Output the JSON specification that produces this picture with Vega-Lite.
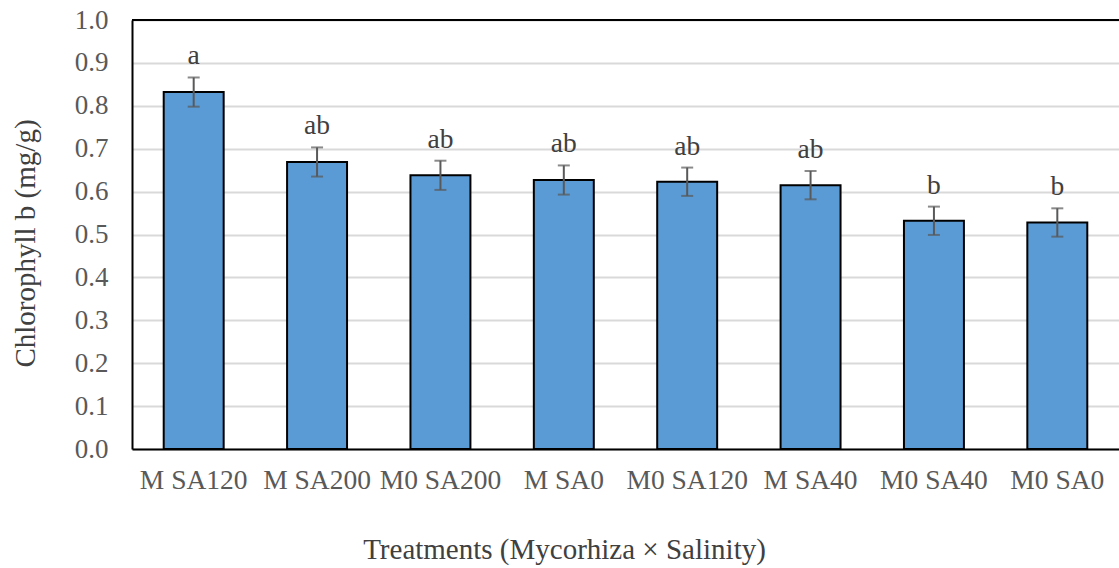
{
  "$schema": "https://vega.github.io/schema/vega-lite/v6.json",
  "width": 987,
  "height": 429,
  "autosize": {"type": "none"},
  "padding": {"left": 132, "top": 20, "right": 0, "bottom": 119},
  "background": "white",
  "config": {
    "view": {"stroke": null},
    "font": "Liberation Serif",
    "axis": {
      "labelFont": "Liberation Serif",
      "titleFont": "Liberation Serif",
      "labelColor": "#595959",
      "titleColor": "#404040",
      "titleFontWeight": "normal",
      "ticks": false,
      "domainColor": "#000000",
      "domainWidth": 2
    }
  },
  "data": {
    "values": [
      {"treatment": "M SA120", "chl_b": 0.832, "low": 0.798, "high": 0.866, "group": "a"},
      {"treatment": "M SA200", "chl_b": 0.669, "low": 0.635, "high": 0.703, "group": "ab"},
      {"treatment": "M0 SA200", "chl_b": 0.638, "low": 0.604, "high": 0.672, "group": "ab"},
      {"treatment": "M SA0", "chl_b": 0.627, "low": 0.593, "high": 0.661, "group": "ab"},
      {"treatment": "M0 SA120", "chl_b": 0.623, "low": 0.590, "high": 0.656, "group": "ab"},
      {"treatment": "M SA40", "chl_b": 0.615, "low": 0.582, "high": 0.648, "group": "ab"},
      {"treatment": "M0 SA40", "chl_b": 0.532, "low": 0.499, "high": 0.565, "group": "b"},
      {"treatment": "M0 SA0", "chl_b": 0.528, "low": 0.495, "high": 0.561, "group": "b"}
    ]
  },
  "encoding": {
    "x": {
      "field": "treatment",
      "type": "nominal",
      "sort": null,
      "scale": {"paddingInner": 0.514, "paddingOuter": 0.257},
      "axis": {
        "orient": "bottom",
        "title": "Treatments (Mycorhiza × Salinity)",
        "labelAngle": 0,
        "labelFontSize": 27.5,
        "labelPadding": 17,
        "titleFontSize": 29,
        "titleX": 432,
        "titleY": 100,
        "titleBaseline": "middle",
        "titleAnchor": null,
        "titleAlign": "center"
      }
    }
  },
  "layer": [
    {
      "mark": {"type": "bar", "color": "#5b9bd5", "stroke": "#000000", "strokeWidth": 2},
      "encoding": {
        "y": {
          "field": "chl_b",
          "type": "quantitative",
          "title": "Chlorophyll b (mg/g)",
          "scale": {"domain": [0, 1], "nice": false},
          "axis": {
            "values": [0, 0.1, 0.2, 0.3, 0.4, 0.5, 0.6, 0.7, 0.8, 0.9, 1.0],
            "format": ".1f",
            "labelFontSize": 27,
            "labelPadding": 24,
            "grid": true,
            "gridColor": "#d9d9d9",
            "gridWidth": 2,
            "titleFontSize": 29,
            "titleX": -107,
            "titleY": 223,
            "titleAngle": -90,
            "titleBaseline": "middle",
            "titleAlign": "center",
            "titleAnchor": null
          }
        }
      }
    },
    {
      "mark": {
        "type": "errorbar",
        "color": "#595959",
        "ticks": {"size": 12, "thickness": 2, "color": "#595959"},
        "rule": {"strokeWidth": 2}
      },
      "encoding": {
        "y": {"field": "low", "type": "quantitative", "title": "Chlorophyll b (mg/g)"},
        "y2": {"field": "high"}
      }
    },
    {
      "mark": {
        "type": "text",
        "font": "Liberation Serif",
        "fontSize": 27.5,
        "color": "#404040",
        "baseline": "alphabetic",
        "dy": -13
      },
      "encoding": {
        "y": {"field": "high", "type": "quantitative", "title": "Chlorophyll b (mg/g)"},
        "text": {"field": "group"}
      }
    },
    {
      "mark": {"type": "rule", "color": "#000000", "strokeWidth": 2},
      "encoding": {
        "y": {"datum": 1, "title": "Chlorophyll b (mg/g)"},
        "x": {"value": 0},
        "x2": {"value": 987}
      }
    }
  ],
  "resolve": {"scale": {"y": "shared"}}
}
